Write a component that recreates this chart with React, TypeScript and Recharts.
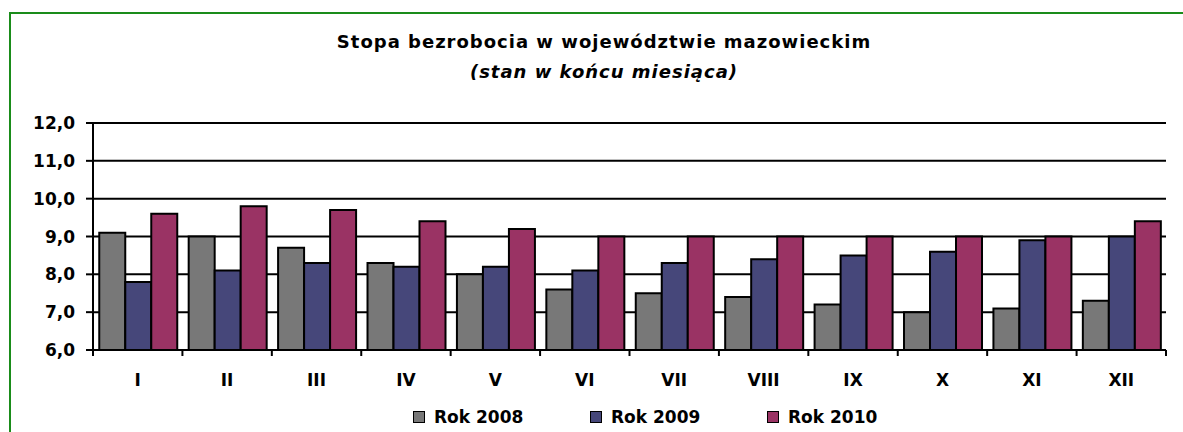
import React from 'react';
import { BarChart, Bar, XAxis, YAxis, CartesianGrid, Legend } from 'recharts';

const months = ['I', 'II', 'III', 'IV', 'V', 'VI', 'VII', 'VIII', 'IX', 'X', 'XI', 'XII'];
const rok2008 = [9.1, 9.0, 8.7, 8.3, 8.0, 7.6, 7.5, 7.4, 7.2, 7.0, 7.1, 7.3];
const rok2009 = [7.8, 8.1, 8.3, 8.2, 8.2, 8.1, 8.3, 8.4, 8.5, 8.6, 8.9, 9.0];
const rok2010 = [9.6, 9.8, 9.7, 9.4, 9.2, 9.0, 9.0, 9.0, 9.0, 9.0, 9.0, 9.4];
const yTicks = [6, 7, 8, 9, 10, 11, 12];
const seriesNames = ['Rok 2008', 'Rok 2009', 'Rok 2010'];
const seriesColors = ['#787878', '#46477a', '#9a3364'];

const data = months.map((m, i) => ({
  month: m,
  r2008: rok2008[i],
  r2009: rok2009[i],
  r2010: rok2010[i],
}));

const FONT = '"DejaVu Sans", Arial, sans-serif';

const CatTick = (props: any) => {
  const { x, y, payload, index } = props;
  const half = payload && payload.offset ? payload.offset : 44.7;
  const axisY = y - 6;
  return (
    <g>
      <line x1={x - half} y1={axisY} x2={x - half} y2={axisY + 6} stroke="#000" strokeWidth={2} />
      {index === months.length - 1 && (
        <line x1={x + half} y1={axisY} x2={x + half} y2={axisY + 6} stroke="#000" strokeWidth={2} />
      )}
      <text
        x={x}
        y={axisY + 36}
        textAnchor="middle"
        fontFamily={FONT}
        fontWeight="bold"
        fontSize={17}
        fill="#000"
      >
        {payload.value}
      </text>
    </g>
  );
};

const LegendContent = () => (
  <div style={{ display: 'flex', fontFamily: FONT, fontWeight: 'bold', fontSize: 17, color: '#000' }}>
    {seriesNames.map((n, i) => (
      <div key={n} style={{ width: 177, display: 'flex', alignItems: 'center' }}>
        <span
          style={{
            display: 'inline-block',
            width: 10,
            height: 10,
            background: seriesColors[i],
            border: '1.5px solid #000',
            marginRight: 9,
          }}
        />
        <span>{n}</span>
      </div>
    ))}
  </div>
);

export default function App() {
  return (
    <div style={{ position: 'absolute', left: 0, top: 0, width: 1183, height: 432, background: '#fff', overflow: 'hidden' }}>
      <div
        style={{
          position: 'absolute',
          left: 9,
          top: 12,
          width: 1300,
          height: 600,
          border: '2px solid #1a8c1a',
          boxSizing: 'border-box',
        }}
      />
      <div
        style={{
          position: 'absolute',
          left: 0,
          width: 1208,
          top: 31,
          textAlign: 'center',
          fontFamily: FONT,
          fontWeight: 'bold',
          fontSize: 18,
          letterSpacing: 1,
          color: '#000',
          lineHeight: '22px',
        }}
      >
        <div>Stopa bezrobocia w województwie mazowieckim</div>
        <div style={{ fontStyle: 'italic', marginTop: 8 }}>(stan w końcu miesiąca)</div>
      </div>
      <div style={{ position: 'absolute', left: 0, top: 0 }}>
        <BarChart
          width={1183}
          height={432}
          data={data}
          margin={{ top: 123, right: 17, bottom: 52, left: 0 }}
          barCategoryGap="7%"
          barGap={0}
        >
          <CartesianGrid vertical={false} stroke="#000" strokeWidth={2} />
          <XAxis
            dataKey="month"
            height={30}
            axisLine={{ stroke: '#000', strokeWidth: 2 }}
            tickLine={false}
            tickSize={6}
            tickMargin={0}
            tick={<CatTick />}
            interval={0}
          />
          <YAxis
            width={93}
            domain={[6, 12]}
            ticks={yTicks}
            interval={0}
            allowDataOverflow
            axisLine={{ stroke: '#000', strokeWidth: 2 }}
            tickLine={{ stroke: '#000', strokeWidth: 2 }}
            tickSize={7}
            tickMargin={11}
            tickFormatter={(v: number) => v.toFixed(1).replace('.', ',')}
            tick={{ fill: '#000', fontFamily: FONT, fontWeight: 'bold', fontSize: 17 }}
          />
          <Legend
            layout="horizontal"
            verticalAlign="middle"
            align="center"
            content={<LegendContent />}
            wrapperStyle={{ left: 413, top: 407, width: 560, height: 22 }}
          />
          <Bar dataKey="r2008" name={seriesNames[0]} fill={seriesColors[0]} stroke="#000" strokeWidth={2} isAnimationActive={false} />
          <Bar dataKey="r2009" name={seriesNames[1]} fill={seriesColors[1]} stroke="#000" strokeWidth={2} isAnimationActive={false} />
          <Bar dataKey="r2010" name={seriesNames[2]} fill={seriesColors[2]} stroke="#000" strokeWidth={2} isAnimationActive={false} />
        </BarChart>
      </div>
    </div>
  );
}
